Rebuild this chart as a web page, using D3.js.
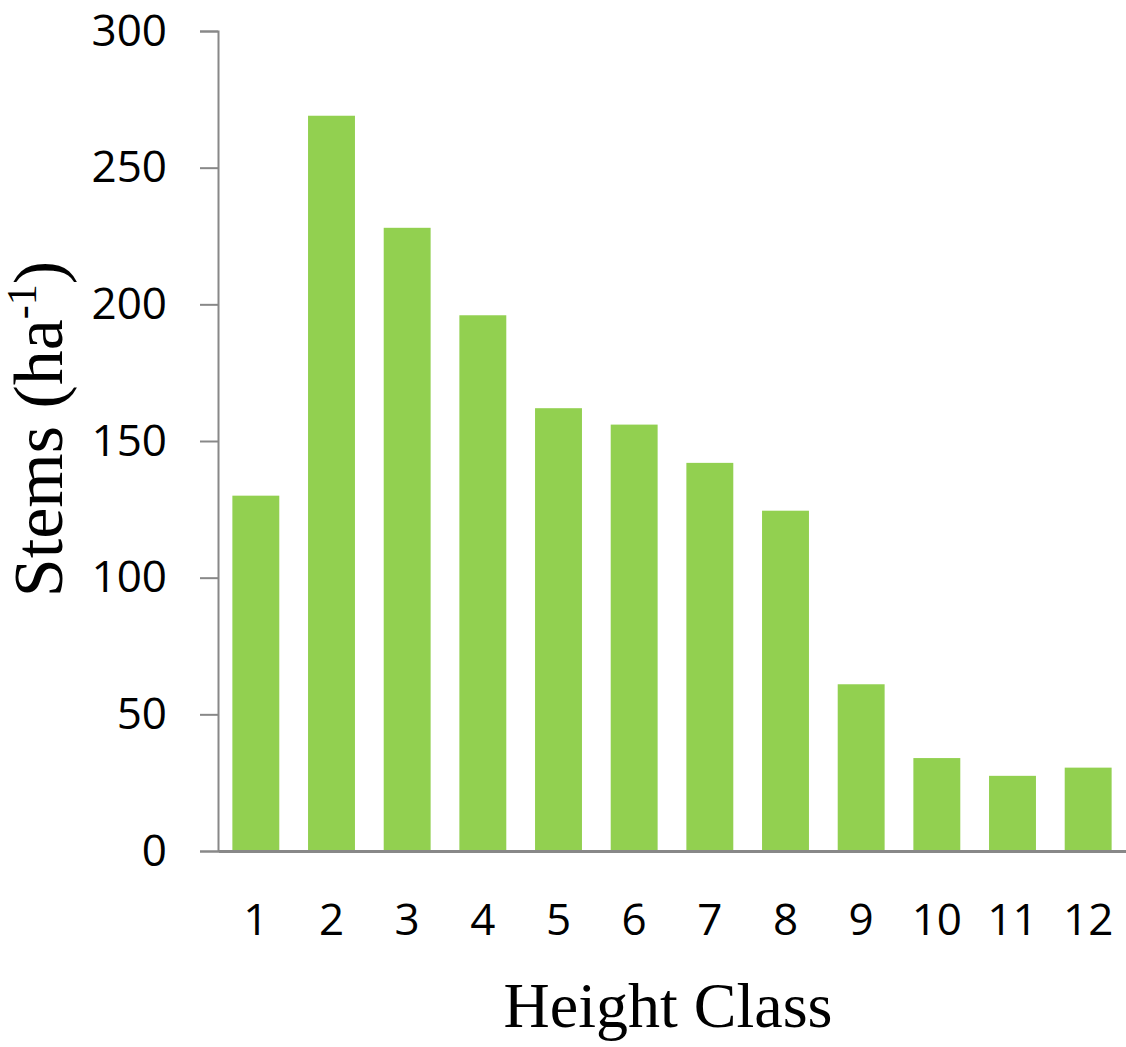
<!DOCTYPE html>
<html><head><meta charset="utf-8">
<script src="https://cdn.jsdelivr.net/npm/d3@7/dist/d3.min.js"></script>
<style>body{margin:0;background:#fff}</style>
</head><body>
<script>
const categories = ["1","2","3","4","5","6","7","8","9","10","11","12"];
const values = [130, 269, 228, 196, 162, 156, 142, 124.5, 61, 34, 27.5, 30.5];
const yTicks = [0, 50, 100, 150, 200, 250, 300];

const W = 1126, H = 1047;
const m = {left: 218, right: 0, top: 31, bottom: 196};
const svg = d3.select("body").append("svg").attr("width", W).attr("height", H);

const x = d3.scaleBand().domain(categories).range([m.left, W - m.right]).paddingInner(0.38).paddingOuter(0.19);
const y = d3.scaleLinear().domain([0, 300]).range([H - m.bottom, m.top]);

svg.append("g").selectAll("rect").data(values).join("rect")
  .attr("x", (d, i) => x(categories[i]))
  .attr("width", x.bandwidth())
  .attr("y", d => y(d))
  .attr("height", d => y(0) - y(d))
  .attr("fill", "#92d050");

const tickFont = "Open Sans, Liberation Sans, sans-serif";
const ya = svg.append("g").attr("transform", `translate(${m.left},0)`)
  .call(d3.axisLeft(y).tickValues(yTicks).tickSize(18).tickPadding(33));
ya.select(".domain").attr("stroke", "#888").attr("stroke-width", 2);
ya.selectAll(".tick line").attr("stroke", "#888").attr("stroke-width", 2);
ya.selectAll(".tick text").attr("font-family", tickFont).attr("font-size", 44).attr("fill", "#000");

const xa = svg.append("g").attr("transform", `translate(0,${y(0)})`)
  .call(d3.axisBottom(x).tickSize(0).tickPadding(53));
xa.select(".domain").attr("stroke", "#888").attr("stroke-width", 3);
xa.selectAll(".tick text").attr("font-family", tickFont).attr("font-size", 44).attr("fill", "#000");

svg.append("text").attr("x", 668).attr("y", 1027).attr("text-anchor", "middle")
  .attr("font-family", "Liberation Serif, Times New Roman, serif").attr("font-size", 64).attr("fill", "#000")
  .text("Height Class");

const yt = svg.append("text").attr("transform", "translate(62,429) rotate(-90)").attr("text-anchor", "middle")
  .attr("font-family", "Liberation Serif, Times New Roman, serif").attr("font-size", 70).attr("fill", "#000");
yt.append("tspan").text("Stems (ha");
yt.append("tspan").attr("dy", -26).attr("font-size", 42).text("-1");
yt.append("tspan").attr("dy", 26).text(")");
</script>
</body></html>
